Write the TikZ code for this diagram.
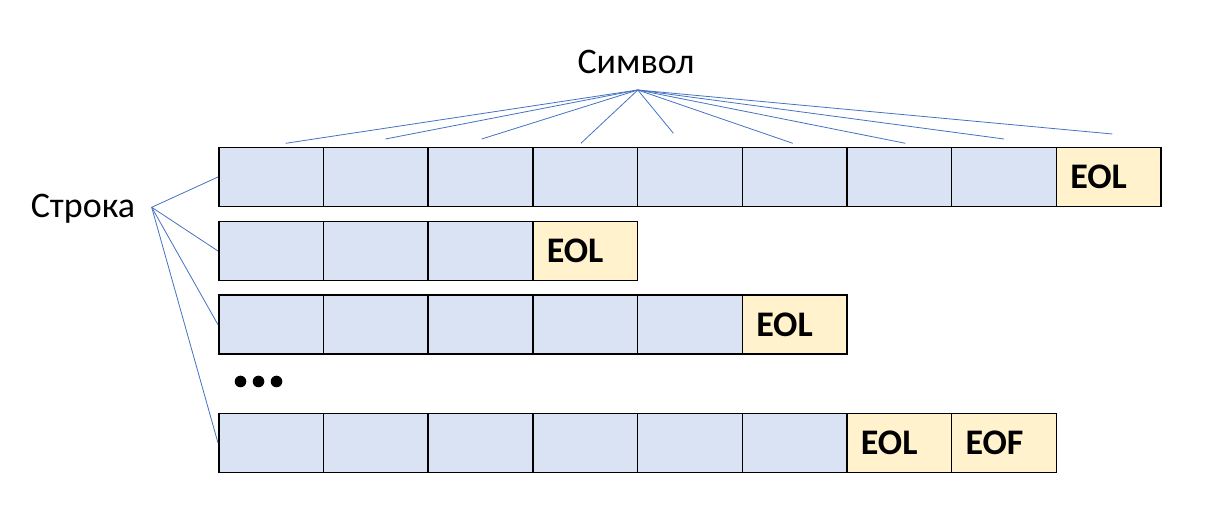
\documentclass[tikz,border=0pt]{standalone}
\usepackage{fontspec}
\setmainfont{Carlito}
\begin{document}
\begin{tikzpicture}[x=1pt,y=-1pt,
  cellbox/.style={draw=black,line width=1.5pt,minimum width=104.7pt,minimum height=59pt,inner sep=0pt,anchor=west},
  bluecell/.style={cellbox,fill=cellblue},
  endcell/.style={cellbox,fill=cellyellow,font=\fontsize{36}{40}\selectfont\bfseries,text width=76.7pt,inner xsep=14pt,align=left},
  lbl/.style={font=\fontsize{36}{40}\selectfont,inner sep=0pt},
  conn/.style={draw=connblue,line width=0.8pt}]
\definecolor{cellblue}{HTML}{DAE3F3}
\definecolor{cellyellow}{HTML}{FFF2CC}
\definecolor{connblue}{HTML}{4472C4}
\useasboundingbox (0,0) rectangle (1219,518);
% row 1
\foreach \i in {1,...,8} {
  \node[bluecell] (a\i) at ({218+(\i-1)*104.7},177) {};
}
\node[endcell] (a9) at ({218+8*104.7},177) {EOL};
% row 2
\foreach \i in {1,...,3} {
  \node[bluecell] (b\i) at ({218+(\i-1)*104.7},251) {};
}
\node[endcell] (b4) at ({218+3*104.7},251) {EOL};
% row 3
\foreach \i in {1,...,5} {
  \node[bluecell] (c\i) at ({218+(\i-1)*104.7},324.7) {};
}
\node[endcell] (c6) at ({218+5*104.7},324.7) {EOL};
% row 4
\foreach \i in {1,...,6} {
  \node[bluecell] (d\i) at ({218+(\i-1)*104.7},443) {};
}
\node[endcell] (d7) at ({218+6*104.7},443) {EOL};
\node[endcell] (d8) at ({218+7*104.7},443) {EOF};
% dots
\foreach \x [count=\j] in {240.5,258.5,276.5} {
  \fill (\x,381.5) circle (5.8pt);
}
% labels
\node[lbl] (sym) at (636,62) {Символ};
\node[lbl] (str) at (83,209) {Строка};
\coordinate (so) at (637.8,90);
\coordinate (ro) at (151.7,207.3);
\foreach \x/\y [count=\k] in {285.7/143.3,385.5/139,481.7/139,580.9/143.3,673.4/133.3,792.8/143.3,905.4/143.3,1004/139,1112.4/134} {
  \coordinate (se\k) at (\x,\y);
  \draw[conn] (so) -- (se\k);
}
\draw[conn] (ro) -- (a1.west);
\draw[conn] (ro) -- (b1.west);
\draw[conn] (ro) -- (c1.west);
\draw[conn] (ro) -- (d1.west);
\end{tikzpicture}
\end{document}
